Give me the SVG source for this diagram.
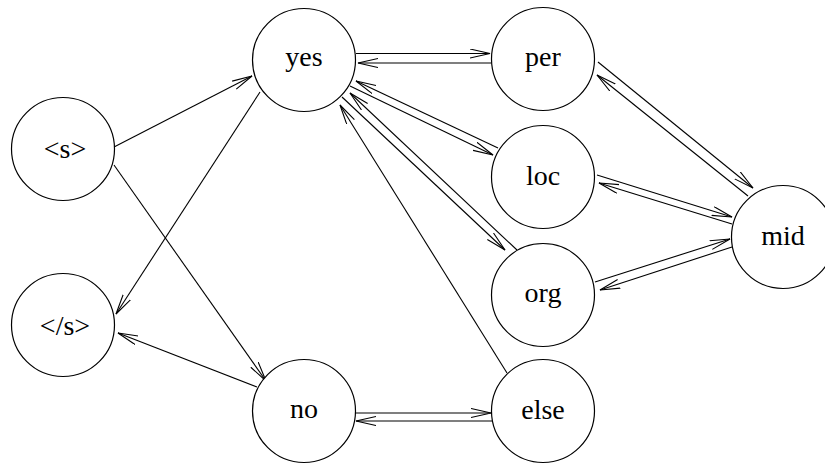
<svg xmlns="http://www.w3.org/2000/svg" width="825" height="464" viewBox="0 0 825 464">
<defs>
<style>
.node circle{fill:#fff;stroke:#000;stroke-width:1.2}
.node text{font-family:'Liberation Serif','DejaVu Serif',serif;font-size:28px;text-anchor:middle;fill:#000}
.edges line{stroke:#000;stroke-width:1.1;fill:none;marker-end:url(#arr)}
</style>
<marker id="arr" markerUnits="userSpaceOnUse" markerWidth="24" markerHeight="12" refX="20" refY="5" orient="auto" viewBox="0 0 24 12">
<path d="M0,0.5 L20,5 L0,9.5" fill="none" stroke="#000" stroke-width="1.1"/>
</marker>
</defs>
<rect width="825" height="464" fill="#fff"/>
<g class="edges" id="edges">
<line x1="114" y1="147" x2="252" y2="76"/>
<line x1="114" y1="165" x2="266" y2="381"/>
<line x1="260" y1="92" x2="116" y2="314"/>
<line x1="257" y1="387" x2="118" y2="333"/>
<line x1="356" y1="53.5" x2="490" y2="53.5"/>
<line x1="491" y1="63" x2="358" y2="63"/>
<line x1="350" y1="86" x2="493" y2="155"/>
<line x1="498" y1="148" x2="356" y2="81"/>
<line x1="342" y1="97" x2="505" y2="250"/>
<line x1="517" y1="250" x2="350" y2="93"/>
<line x1="507" y1="373" x2="340" y2="105"/>
<line x1="598" y1="62" x2="753" y2="188"/>
<line x1="748" y1="196" x2="597" y2="75"/>
<line x1="597" y1="175" x2="732" y2="217"/>
<line x1="732" y1="224" x2="599" y2="183"/>
<line x1="595" y1="282" x2="730" y2="239"/>
<line x1="732" y1="247" x2="600" y2="290"/>
<line x1="356" y1="413" x2="491" y2="413"/>
<line x1="492" y1="421" x2="356" y2="421"/>
</g>
<g class="node" id="n_s"><circle cx="63" cy="149" r="51.5"/><text x="65" y="158" font-family="Liberation Serif">&lt;s&gt;</text></g>
<g class="node" id="n_end"><circle cx="63" cy="325" r="51.5"/><text x="65" y="335" font-family="Liberation Serif">&lt;/s&gt;</text></g>
<g class="node" id="n_yes"><circle cx="304" cy="60" r="51.5"/><text x="304" y="66" font-family="Liberation Serif">yes</text></g>
<g class="node" id="n_no"><circle cx="304" cy="411" r="51.5"/><text x="304" y="418" font-family="Liberation Serif">no</text></g>
<g class="node" id="n_per"><circle cx="543" cy="59" r="51.5"/><text x="543" y="66" font-family="Liberation Serif">per</text></g>
<g class="node" id="n_loc"><circle cx="543" cy="177" r="51.5"/><text x="543" y="185" font-family="Liberation Serif">loc</text></g>
<g class="node" id="n_org"><circle cx="543" cy="295" r="51.5"/><text x="543" y="302" font-family="Liberation Serif">org</text></g>
<g class="node" id="n_else"><circle cx="543" cy="411" r="51.5"/><text x="543" y="419" font-family="Liberation Serif">else</text></g>
<g class="node" id="n_mid"><circle cx="783" cy="237" r="51.5"/><text x="783" y="245" font-family="Liberation Serif">mid</text></g>
</svg>
